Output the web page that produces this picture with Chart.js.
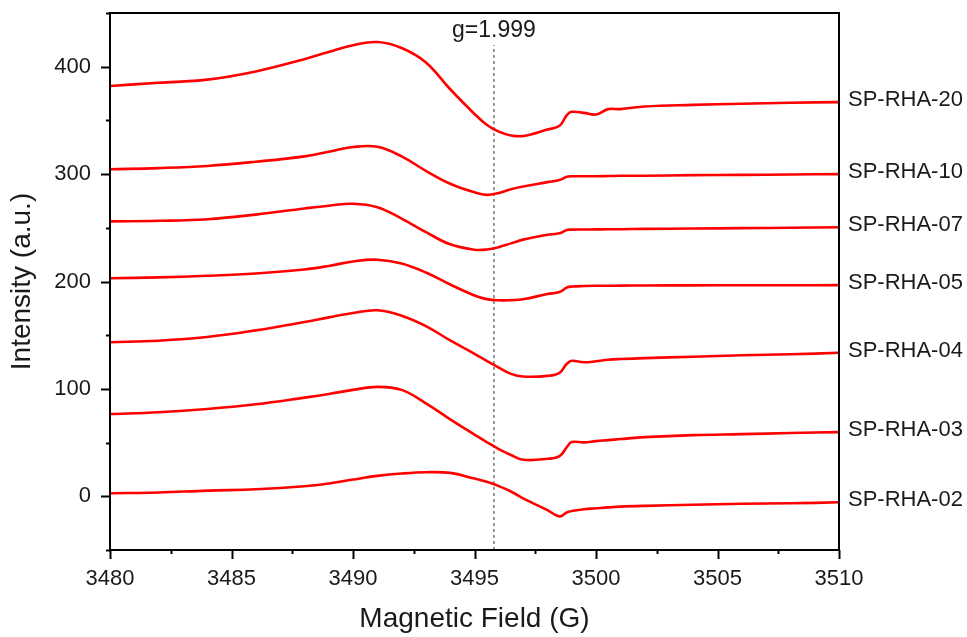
<!DOCTYPE html>
<html>
<head>
<meta charset="utf-8">
<script src="https://cdn.jsdelivr.net/npm/chart.js@4.4.1/dist/chart.umd.min.js"></script>
<style>
  html, body { margin: 0; padding: 0; background: #fff; }
  #wrap { width: 967px; height: 637px; }
</style>
</head>
<body>
<div id="wrap"><canvas id="eprChart" width="967" height="637"></canvas></div>
<script>
// magnetic field (G), shared by all spectra
const fields = [3480, 3482, 3484, 3486, 3488, 3489, 3490, 3491, 3492, 3493, 3494, 3495, 3495.5, 3496, 3496.5, 3497, 3498, 3498.5, 3498.8, 3499, 3499.5, 3500, 3500.5, 3501, 3502, 3504, 3506, 3508, 3510];

// intensity (a.u.), stacked spectra
const rha20 = [382, 385, 388, 395.6, 407, 413.7, 420, 423, 417.4, 404, 379, 356, 346, 339.5, 336, 335.5, 341.5, 345, 355, 358, 357, 355.5, 360.5, 360.5, 363, 364.5, 365.5, 366.5, 367];
const rha10 = [304.5, 305.6, 307.6, 311.5, 316.5, 320.8, 325.2, 325.4, 316.5, 303, 291, 283, 280.7, 282.5, 286, 288.5, 292.5, 294.5, 297.5, 298, 298, 298, 298.2, 298.4, 298.5, 299, 299.3, 299.6, 300];
const rha07 = [256, 256.5, 258, 262.3, 268, 270.6, 272.4, 269.2, 258.6, 246, 234.6, 229.6, 229.8, 232, 235.5, 239, 243.5, 244.9, 248, 248.3, 248.4, 248.5, 248.6, 248.7, 249, 249.3, 249.7, 250, 250.5];
const rha05 = [203, 203.8, 205.3, 207.5, 211.2, 214.5, 218.7, 220.3, 216.8, 208.4, 197.2, 187, 183.6, 182.5, 182.7, 183.5, 188.3, 190.2, 194.4, 195.3, 195.8, 196, 196, 196.2, 196.3, 196.4, 196.5, 196.5, 196.6];
const rha04 = [143.5, 144.9, 148.3, 154.5, 162.3, 166.6, 170.7, 173.2, 168.2, 158.5, 145.1, 132.7, 126.2, 119.9, 114, 111.5, 112.1, 115, 123.4, 126.2, 124.8, 125.7, 127.1, 127.8, 128.7, 129.9, 131.3, 132.2, 133.6];
const rha03 = [76.6, 78.3, 81.3, 85.7, 91.9, 95.3, 99.1, 101.9, 99.1, 86.6, 71.7, 57.5, 50.5, 44, 38.5, 34, 34.9, 37.4, 45.8, 50.5, 50.2, 51.4, 52.3, 53.3, 55.1, 57, 57.9, 58.9, 59.8];
const rha02 = [2.8, 3.5, 5.3, 6.5, 9.3, 11.9, 15.6, 19, 21.2, 22.4, 21.8, 16.5, 13.5, 9.5, 4.5, -2, -12.8, -18.7, -15, -13.6, -12.1, -11.2, -10.3, -9.6, -8.9, -7.9, -7, -6.5, -5.6];

const sampleNames = ["SP-RHA-20", "SP-RHA-10", "SP-RHA-07", "SP-RHA-05", "SP-RHA-04", "SP-RHA-03", "SP-RHA-02"];
const spectra = [rha20, rha10, rha07, rha05, rha04, rha03, rha02];

// g-marker
const gField = 3495.8;
const gLabel = "g=1.999";
const gLineY = [-50, 420];

const FONT = "'Liberation Sans', Arial, Helvetica, sans-serif";

const datasets = spectra.map(function (vals, i) {
  return {
    label: sampleNames[i],
    data: fields.map(function (f, k) { return { x: f, y: vals[k] }; }),
    borderColor: "#ff0000",
    borderWidth: 2.6,
    pointRadius: 0,
    fill: false,
    tension: 0.4,
  };
});
datasets.push({
  label: "g",
  data: [{ x: gField, y: gLineY[0] }, { x: gField, y: gLineY[1] }],
  borderColor: "#333",
  borderWidth: 1,
  borderDash: [3, 3],
  pointRadius: 0,
  fill: false,
});

// frame, minor/major ticks and text labels
const decorPlugin = {
  id: "decor",
  afterDraw(chart) {
    const ctx = chart.ctx;
    const a = chart.chartArea;
    const xs = chart.scales.x, ys = chart.scales.y;
    ctx.save();
    ctx.strokeStyle = "#000";
    ctx.lineWidth = 2;
    ctx.strokeRect(a.left, a.top, a.right - a.left, a.bottom - a.top);

    xs.ticks.forEach(function (t) {
      const px = Math.round(xs.getPixelForValue(t.value)) + 0.5;
      const len = t.value % 5 === 0 ? 9 : 4;
      ctx.beginPath();
      ctx.moveTo(px, a.bottom);
      ctx.lineTo(px, a.bottom + len);
      ctx.stroke();
    });
    ys.ticks.forEach(function (t) {
      const py = Math.round(ys.getPixelForValue(t.value)) + 0.5;
      const len = t.value % 100 === 0 ? 9 : 4;
      ctx.beginPath();
      ctx.moveTo(a.left, py);
      ctx.lineTo(a.left - len, py);
      ctx.stroke();
    });

    ctx.fillStyle = "#1a1a1a";
    ctx.font = "23px " + FONT;
    ctx.textAlign = "center";
    ctx.textBaseline = "alphabetic";
    ctx.fillText(gLabel, xs.getPixelForValue(gField), 37);

    ctx.font = "22px " + FONT;
    ctx.textAlign = "left";
    spectra.forEach(function (vals, i) {
      const py = ys.getPixelForValue(vals[vals.length - 1]);
      ctx.fillText(sampleNames[i], a.right + 9, py + 4);
    });
    ctx.restore();
  },
};

new Chart(document.getElementById("eprChart").getContext("2d"), {
  type: "line",
  data: { datasets: datasets },
  options: {
    responsive: false,
    animation: false,
    devicePixelRatio: 1,
    layout: { padding: { left: 0, right: 128, top: 13, bottom: 0 } },
    plugins: { legend: { display: false }, tooltip: { enabled: false } },
    scales: {
      x: {
        type: "linear",
        min: 3480,
        max: 3510,
        afterFit: function (s) { s.height = 87; s.paddingLeft = 0; s.paddingRight = 0; },
        grid: { display: false, drawTicks: false },
        border: { display: false },
        ticks: {
          stepSize: 2.5,
          autoSkip: false,
          maxRotation: 0,
          padding: 16,
          color: "#1a1a1a",
          font: { family: FONT, size: 22 },
          callback: function (v) { return v % 5 === 0 ? String(v) : ""; },
        },
        title: {
          display: true,
          text: "Magnetic Field (G)",
          color: "#1a1a1a",
          font: { family: FONT, size: 28 },
          padding: { top: 0, bottom: 1 },
        },
      },
      y: {
        min: -50,
        max: 450,
        afterFit: function (s) { s.width = 110; s.paddingTop = 0; s.paddingBottom = 0; },
        grid: { display: false, drawTicks: false },
        border: { display: false },
        ticks: {
          stepSize: 50,
          autoSkip: false,
          padding: 19,
          color: "#1a1a1a",
          font: { family: FONT, size: 22 },
          callback: function (v) { return v % 100 === 0 ? String(v) : ""; },
        },
        title: {
          display: true,
          text: "Intensity (a.u.)",
          color: "#1a1a1a",
          font: { family: FONT, size: 28 },
          padding: { top: 5, bottom: 0 },
        },
      },
    },
  },
  plugins: [decorPlugin],
});
</script>
</body>
</html>
